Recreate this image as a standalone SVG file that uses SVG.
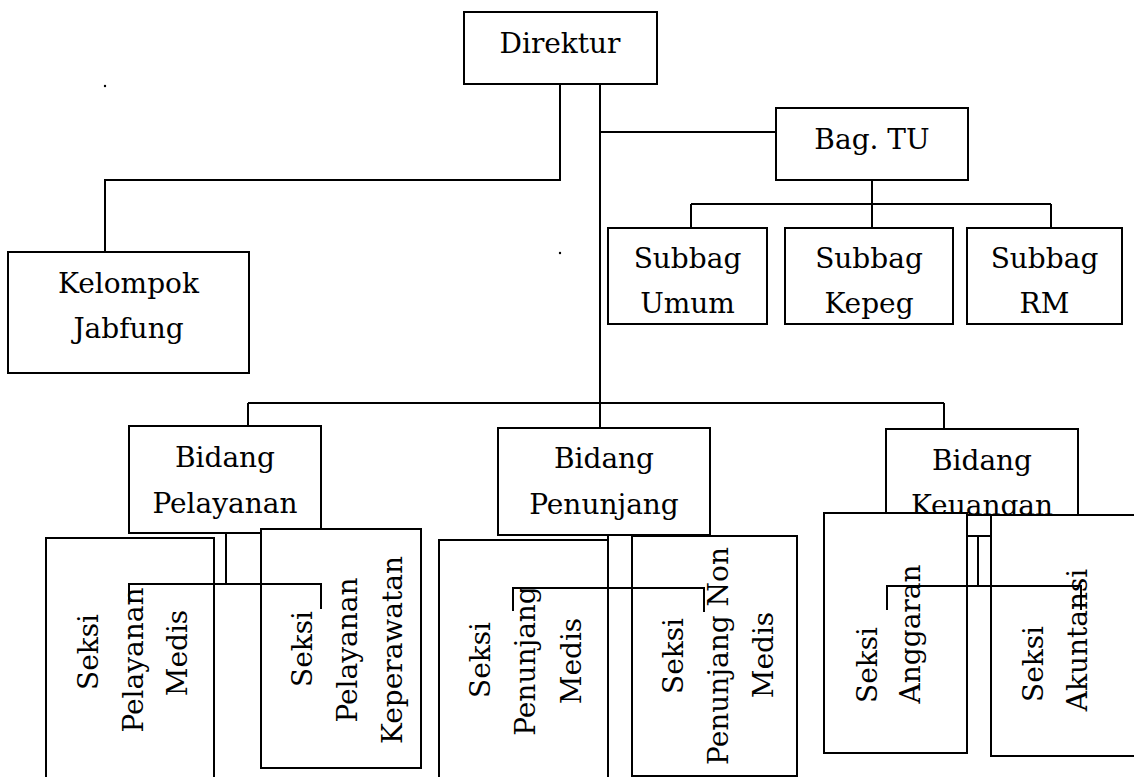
<svg xmlns="http://www.w3.org/2000/svg" width="1134" height="777" viewBox="0 0 1134 777">
<style>
.box{fill:#fff;stroke:#000;stroke-width:2}
.ln{fill:none;stroke:#000;stroke-width:2}
text{font-family:"DejaVu Serif","Liberation Serif",serif;font-size:28px;fill:#000;text-anchor:middle}
</style>
<rect width="1134" height="777" fill="#fff"/>
<circle cx="105" cy="86" r="1.2" fill="#000"/>
<circle cx="560" cy="253" r="1.2" fill="#000"/>
<g id="connectors-top">
<path class="ln" d="M560 84V180H105V252"/>
<path class="ln" d="M600 84V403"/>
<path class="ln" d="M600 132H776"/>
<path class="ln" d="M872 180V204M691 204H1051M691 204V228M872 204V228M1051 204V228"/>
<path class="ln" d="M248 403H944M248 403V426M600 403V428M944 403V429"/>
</g>
<g id="direktur"><rect class="box" x="464" y="12" width="193" height="72"/><text x="560" y="53">Direktur</text></g>
<g id="bagtu"><rect class="box" x="776" y="108" width="192" height="72"/><text x="872" y="149">Bag. TU</text></g>
<g id="subbag-umum"><rect class="box" x="608" y="228" width="159" height="96"/><text x="687.5" y="268">Subbag</text><text x="687.5" y="313">Umum</text></g>
<g id="subbag-kepeg"><rect class="box" x="785" y="228" width="168" height="96"/><text x="869" y="268">Subbag</text><text x="869" y="313">Kepeg</text></g>
<g id="subbag-rm"><rect class="box" x="967" y="228" width="155" height="96"/><text x="1044.5" y="268">Subbag</text><text x="1044.5" y="313">RM</text></g>
<g id="kelompok"><rect class="box" x="8" y="252" width="241" height="121"/><text x="128.5" y="293">Kelompok</text><text x="128.5" y="338">Jabfung</text></g>
<g id="bidang-pelayanan"><rect class="box" x="129" y="426" width="192" height="107"/><text x="225" y="467">Bidang</text><text x="225" y="513">Pelayanan</text></g>
<g id="bidang-penunjang"><rect class="box" x="498" y="428" width="212" height="107"/><text x="604" y="468">Bidang</text><text x="604" y="514">Penunjang</text></g>
<g id="bidang-keuangan"><rect class="box" x="886" y="429" width="192" height="107"/><text x="982" y="470">Bidang</text><text x="982" y="515">Keuangan</text></g>
<g id="seksi-pelayanan-medis"><rect class="box" x="46" y="538" width="168" height="260"/>
<text transform="translate(98 652) rotate(-90)">Seksi</text><text transform="translate(143 660) rotate(-90)">Pelayanan</text><text transform="translate(187 653) rotate(-90)">Medis</text></g>
<g id="seksi-pelayanan-keperawatan"><rect class="box" x="261" y="529" width="160" height="239"/>
<text transform="translate(312 649) rotate(-90)">Seksi</text><text transform="translate(357 650) rotate(-90)">Pelayanan</text><text transform="translate(402 650) rotate(-90)">Keperawatan</text></g>
<g id="seksi-penunjang-medis"><rect class="box" x="439" y="540" width="169" height="260"/>
<text transform="translate(490 660) rotate(-90)">Seksi</text><text transform="translate(535 661) rotate(-90)">Penunjang</text><text transform="translate(581 661) rotate(-90)">Medis</text></g>
<g id="seksi-penunjang-non-medis"><rect class="box" x="632" y="536" width="165" height="240"/>
<text transform="translate(683 656) rotate(-90)">Seksi</text><text transform="translate(728 656) rotate(-90)">Penunjang Non</text><text transform="translate(773 655) rotate(-90)">Medis</text></g>
<g id="seksi-anggaran"><rect class="box" x="824" y="513" width="143" height="240"/>
<text transform="translate(877 665) rotate(-90)">Seksi</text><text transform="translate(920 634) rotate(-90)">Anggaran</text></g>
<g id="seksi-akuntansi"><rect class="box" x="991" y="515" width="150" height="241"/>
<text transform="translate(1043 664) rotate(-90)">Seksi</text><text transform="translate(1087 640) rotate(-90)">Akuntansi</text></g>
<g id="connectors-bottom">
<path class="ln" d="M226 533V584M129 600V584H321V609"/>
<path class="ln" d="M608 535V588M513 611V588H704V612"/>
<path class="ln" d="M967 515H991M967 536H991M978 536V586M887 610V586H1081V610"/>
</g>
</svg>
